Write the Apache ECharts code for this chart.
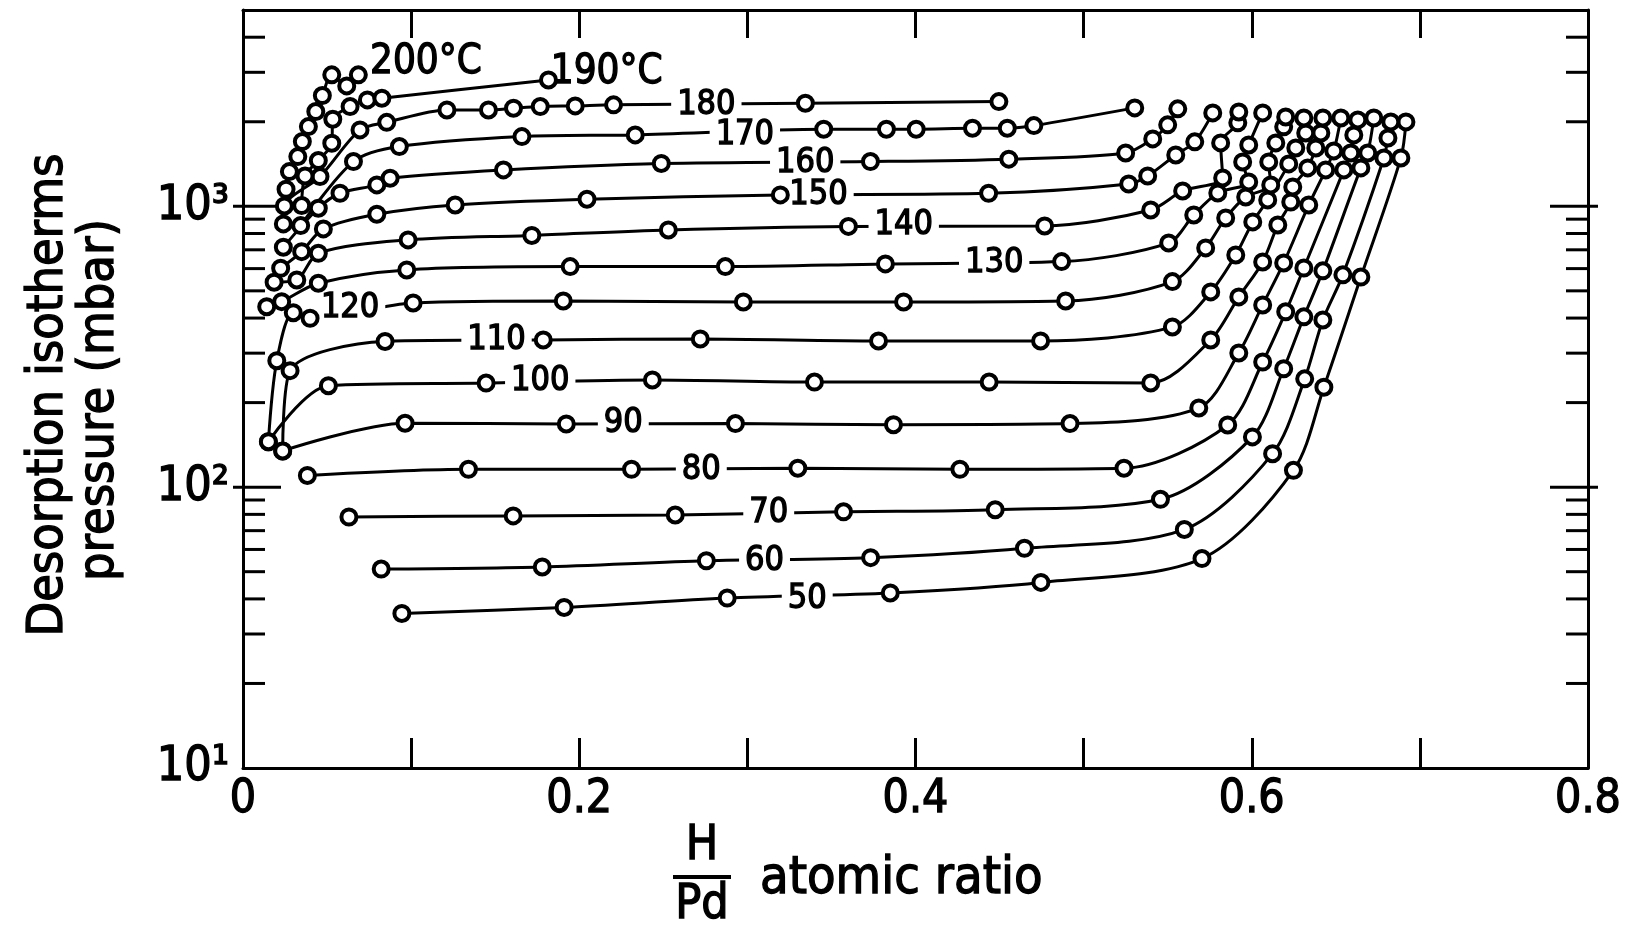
<!DOCTYPE html>
<html>
<head>
<meta charset="utf-8">
<script src="https://cdn.jsdelivr.net/npm/echarts/dist/echarts.min.js"></script>
<style>
  html, body { margin: 0; padding: 0; background: #fff; }
  #chart { width: 1628px; height: 939px; }
</style>
</head>
<body>
<div id="chart"></div>
<script>
// Desorption isotherms of H in Pd: [H/Pd atomic ratio, pressure in mbar]
const h50  = [[0.0945,35.5],[0.191,37.3],[0.288,40.3],[0.385,42.0],[0.4746,45.8],[0.5704,55.7],[0.6248,114.8],[0.6429,227],[0.6649,560],[0.6887,1487],[0.6917,1998]];
const h60  = [[0.0822,51.1],[0.178,52.0],[0.2756,54.7],[0.3733,56.1],[0.4648,60.6],[0.5599,70.7],[0.6124,131.6],[0.6315,243],[0.6423,394],[0.6542,570],[0.6786,1487],[0.681,1752],[0.6827,1998]];
const h70  = [[0.063,78.3],[0.1607,79.0],[0.2571,79.6],[0.3572,81.7],[0.4474,83.1],[0.5457,90.5],[0.6004,151],[0.619,264],[0.631,404],[0.6423,589],[0.6649,1370],[0.669,1549],[0.6726,2064]];
const h80  = [[0.0383,110.1],[0.1341,115.8],[0.2311,115.8],[0.33,116.8],[0.4264,115.8],[0.524,116.8],[0.5857,166.5],[0.6065,279],[0.6202,421],[0.631,603],[0.6548,1348],[0.6589,1549],[0.6607,1796],[0.6631,2031]];
const h90  = [[0.0236,134.6],[0.0964,168.9],[0.1923,167.9],[0.2929,168.4],[0.3869,166.9],[0.4919,168.4],[0.5685,191.4],[0.5923,300.6],[0.6065,445.5],[0.619,628.6],[0.6339,1011],[0.644,1348],[0.6488,1575],[0.653,2064]];
const h100 = [[0.0151,145.2],[0.0508,229.8],[0.1446,234.8],[0.2435,240.8],[0.3399,236.7],[0.4438,236.7],[0.5399,235],[0.5756,334.4],[0.5923,475.8],[0.6065,633.7],[0.6155,858.5],[0.6232,1036],[0.6244,1172],[0.6333,1370],[0.6381,1614],[0.6411,1825],[0.6423,2064]];
const h110 = [[0.0236,134.6],[0.028,259.9],[0.0845,330.3],[0.1786,334.4],[0.272,337.1],[0.378,331.6],[0.4744,331.6],[0.5528,372],[0.5756,495.7],[0.5905,671],[0.6006,880],[0.6095,1054],[0.622,1416],[0.6262,1614],[0.6321,1825],[0.631,2064]];
const h120 = [[0.0151,145.2],[0.0201,282],[0.0299,418],[0.0399,399.4],[0.1012,452.9],[0.1905,460.3],[0.2976,456.6],[0.3929,456.6],[0.4893,460.3],[0.5528,539.4],[0.5726,711],[0.5845,909],[0.5964,1080],[0.6113,1192],[0.6101,1439],[0.6143,1682],[0.619,1918],[0.6202,2081]];
const h130 = [[0.0141,439.2],[0.023,457.7],[0.0448,532.3],[0.0974,593.6],[0.1946,609.9],[0.2869,609.9],[0.3821,623.6],[0.4869,635.5],[0.5506,740.6],[0.5655,931.8],[0.5798,1116],[0.5982,1221],[0.5946,1439],[0.5982,1654],[0.6065,2151]];
const h140 = [[0.0185,536.7],[0.032,546.9],[0.0448,680.6],[0.0982,759.2],[0.1718,787.7],[0.253,824],[0.3601,848.1],[0.4768,851.4],[0.5399,970.7],[0.5589,1134],[0.5827,1262],[0.5815,1682],[0.5917,1982],[0.5923,2168]];
const h150 = [[0.0224,601.8],[0.0349,689.6],[0.0478,830.9],[0.0796,937.1],[0.1262,1011],[0.2046,1060],[0.3196,1098],[0.4435,1113],[0.5268,1201],[0.5381,1283],[0.5548,1524],[0.5661,1696],[0.5768,2151]];
const h160 = [[0.024,715.1],[0.0448,984.4],[0.0577,1113],[0.0796,1192],[0.0875,1259],[0.1549,1348],[0.2488,1421],[0.3732,1443],[0.4555,1472],[0.525,1549],[0.5411,1738],[0.55,1950],[0.556,2223]];
const h170 = [[0.0343,853.6],[0.0657,1443],[0.093,1632],[0.1659,1771],[0.2333,1796],[0.3454,1882],[0.3827,1882],[0.4004,1882],[0.4339,1897],[0.4546,1897],[0.4704,1938],[0.5304,2241]];
const h180 = [[0.024,865.7],[0.0246,1003],[0.0458,1276],[0.0696,1871],[0.0855,1990],[0.1213,2204],[0.146,2204],[0.1609,2235],[0.1768,2265],[0.1976,2278],[0.2204,2297],[0.3345,2329],[0.4496,2359]];
const h190 = [[0.0349,1006],[0.0369,1283],[0.0448,1455],[0.0528,1678],[0.0534,2042],[0.0637,2265],[0.074,2393],[0.0826,2426],[0.1817,2818]];
const h200 = [[0.0256,1150],[0.0276,1329],[0.0326,1503],[0.0353,1700],[0.0389,1922],[0.0433,2174],[0.0472,2479],[0.0528,2938],[0.0617,2684],[0.0686,2938]];

const isotherms = [h50, h60, h70, h80, h90, h100, h110, h120, h130, h140, h150, h160, h170, h180, h190, h200];

// Temperature tags written on the curves: [x, pressure, text]
const inlineTags = [
  [0.2756, 2299, '180'], [0.2985, 1796, '170'], [0.3344, 1427, '160'], [0.3423, 1096, '150'],
  [0.3930, 856, '140'], [0.4468, 625, '130'], [0.0637, 433, '120'], [0.1508, 333, '110'],
  [0.1768, 239, '100'], [0.2262, 168.4, '90'], [0.2726, 114.8, '80'], [0.3127, 80.9, '70'],
  [0.3102, 54.7, '60'], [0.3356, 40.0, '50']
];
const endTags = [[0.1088, 3259, '200°C'], [0.2163, 2993, '190°C']];

// Log-axis tick positions (mbar) drawn on both vertical frame edges
const yTickValues = [20, 30, 40, 50, 60, 70, 80, 90, 100, 200, 300, 400, 500, 600, 700, 800, 900, 1000, 2000, 3000, 4000];
const xTickLabels = ['0', '0.2', '0.4', '0.6', '0.8'];

const FONT = '"Liberation Sans Narrow", "DejaVu Sans Condensed", "Liberation Sans", sans-serif';
const INK = '#000';
// a thin outline in the text colour gives the heavy lettering
const HEAVY = { textBorderColor: INK, textBorderWidth: 1.3 };

const chart = echarts.init(document.getElementById('chart'), null, { renderer: 'canvas' });

const lineSeries = isotherms.map(d => ({
  type: 'line',
  data: d,
  smooth: 0.3,
  showSymbol: false,
  silent: true,
  lineStyle: { color: INK, width: 3 },
  z: 2
}));

const markerSeries = {
  type: 'scatter',
  data: isotherms.flat(),
  symbol: 'circle',
  symbolSize: 15,
  silent: true,
  itemStyle: { color: '#fff', borderColor: INK, borderWidth: 4, opacity: 1 },
  z: 5
};

const tagLabel = Object.assign({
  show: true, position: 'inside', formatter: '{b}', opacity: 1,
  fontFamily: FONT, color: INK, textShadowBlur: 0
}, HEAVY);

const tagSeries = {
  type: 'scatter',
  data: inlineTags.map(t => ({ value: [t[0], t[1]], name: t[2] })),
  symbolSize: 0,
  silent: true,
  itemStyle: { opacity: 1 },
  label: Object.assign({}, tagLabel, { fontSize: 34, backgroundColor: '#fff', padding: [0, 6] }),
  z: 4
};

const endTagSeries = {
  type: 'scatter',
  data: endTags.map(t => ({ value: [t[0], t[1]], name: t[2] })),
  symbolSize: 0,
  silent: true,
  itemStyle: { opacity: 1 },
  label: Object.assign({}, tagLabel, { fontSize: 40 }),
  z: 4
};

const tickSeries = {
  type: 'custom',
  data: yTickValues.map(v => [0, v]),
  clip: false,
  silent: true,
  z: 3,
  renderItem(params, api) {
    const v = api.value(1);
    const l = api.coord([0, v]);
    const r = api.coord([0.8, v]);
    const lg = Math.log10(v);
    const major = Math.abs(lg - Math.round(lg)) < 1e-6;
    const inL = major ? 38 : 22;
    const outL = major ? 10 : 0;
    const st = { stroke: INK, lineWidth: 3 };
    return {
      type: 'group',
      children: [
        { type: 'line', shape: { x1: l[0] - outL, y1: l[1], x2: l[0] + inL, y2: l[1] }, style: st },
        { type: 'line', shape: { x1: r[0] + outL, y1: r[1], x2: r[0] - inL, y2: r[1] }, style: st }
      ]
    };
  }
};

const supers = { 1: '10¹', 2: '10²', 3: '10³' };

const graphicText = (x, y, text, size, align, rot) => ({
  type: 'text', x, y, rotation: rot || 0,
  style: {
    text, font: size + 'px ' + FONT, fill: INK, stroke: INK, lineWidth: 1.3,
    textAlign: align, textVerticalAlign: 'middle'
  }
});

const option = {
  animation: false,
  backgroundColor: '#fff',
  grid: { left: 243, right: 40, top: 10, bottom: 171, containLabel: false },
  xAxis: [
    {
      type: 'value', min: 0, max: 0.8, interval: 0.1, position: 'bottom',
      axisLine: { show: true, onZero: false, lineStyle: { color: INK, width: 3 } },
      axisTick: { show: true, inside: true, length: 30, lineStyle: { color: INK, width: 3 } },
      axisLabel: Object.assign({
        margin: 9, fontFamily: FONT, fontSize: 46, color: INK,
        formatter: v => {
          const k = Math.round(v * 10);
          return k % 2 === 0 ? xTickLabels[k / 2] : '';
        }
      }, HEAVY),
      splitLine: { show: false }
    },
    {
      type: 'value', min: 0, max: 0.8, interval: 0.1, position: 'top',
      axisLine: { show: true, onZero: false, lineStyle: { color: INK, width: 3 } },
      axisTick: { show: true, inside: true, length: 28, lineStyle: { color: INK, width: 3 } },
      axisLabel: { show: false },
      splitLine: { show: false }
    }
  ],
  yAxis: [
    {
      type: 'log', logBase: 10, min: 10, max: 5000, position: 'left',
      axisLine: { show: true, onZero: false, lineStyle: { color: INK, width: 3 } },
      axisTick: { show: false },
      minorTick: { show: false },
      axisLabel: Object.assign({
        margin: 14, fontFamily: FONT, fontSize: 48, color: INK,
        formatter: v => {
          const lg = Math.log10(v);
          const k = Math.round(lg);
          return Math.abs(lg - k) < 1e-6 && supers[k] ? supers[k] : '';
        }
      }, HEAVY),
      splitLine: { show: false }
    },
    {
      type: 'log', logBase: 10, min: 10, max: 5000, position: 'right',
      axisLine: { show: true, onZero: false, lineStyle: { color: INK, width: 3 } },
      axisTick: { show: false },
      axisLabel: { show: false },
      splitLine: { show: false }
    }
  ],
  series: [tickSeries, ...lineSeries, tagSeries, endTagSeries, markerSeries],
  graphic: [
    graphicText(49, 395, 'Desorption isotherms', 50, 'center', Math.PI / 2),
    graphicText(100, 400, 'pressure (mbar)', 50, 'center', Math.PI / 2),
    graphicText(702, 847, 'H', 48, 'center'),
    {
      type: 'line', shape: { x1: 673, y1: 877, x2: 731, y2: 877 },
      style: { stroke: INK, lineWidth: 4 }
    },
    graphicText(702, 906, 'Pd', 48, 'center'),
    graphicText(760, 879, 'atomic ratio', 52, 'left')
  ]
};

chart.setOption(option);
</script>
</body>
</html>
